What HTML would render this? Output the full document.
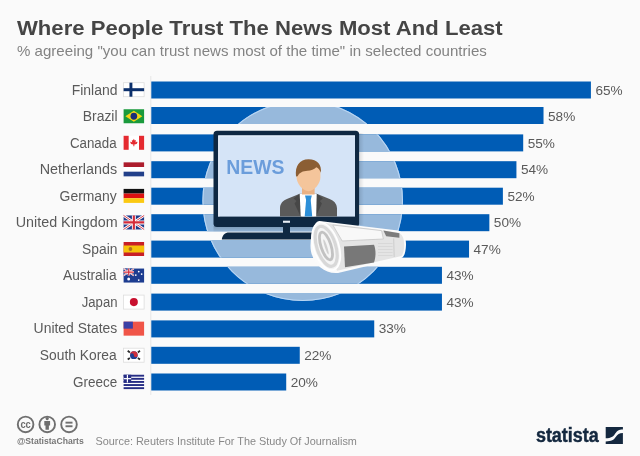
<!DOCTYPE html>
<html><head><meta charset="utf-8"><style>
html,body{margin:0;padding:0;background:#fafafa;}
svg{display:block;will-change:transform;}
text{font-family:"Liberation Sans",sans-serif;}
.lbl{font-size:14px;fill:#5a5a5a;}
.pct{font-size:13.6px;fill:#5a5a5a;}
</style></head><body>
<svg width="640" height="456" viewBox="0 0 640 456">
<rect width="640" height="456" fill="#fafafa"/>
<text x="17" y="35" font-size="21.1" font-weight="bold" fill="#454545" textLength="485.7" lengthAdjust="spacingAndGlyphs">Where People Trust The News Most And Least</text>
<text x="17" y="55.6" font-size="14.5" fill="#838383" textLength="469.8" lengthAdjust="spacingAndGlyphs">% agreeing "you can trust news most of the time" in selected countries</text>
<rect x="150.3" y="76" width="1" height="319" fill="#e6e6e6"/>
<rect x="151.3" y="81.50" width="439.61" height="17.0" fill="#005cb5"/><rect x="151.3" y="107.00" width="392.22" height="17.0" fill="#005cb5"/><rect x="151.3" y="134.40" width="371.90" height="17.0" fill="#005cb5"/><rect x="151.3" y="161.20" width="365.13" height="17.0" fill="#005cb5"/><rect x="151.3" y="187.70" width="351.59" height="17.0" fill="#005cb5"/><rect x="151.3" y="214.20" width="338.05" height="17.0" fill="#005cb5"/><rect x="151.3" y="240.60" width="317.74" height="17.0" fill="#005cb5"/><rect x="151.3" y="266.80" width="290.65" height="17.0" fill="#005cb5"/><rect x="151.3" y="293.60" width="290.65" height="17.0" fill="#005cb5"/><rect x="151.3" y="320.40" width="222.94" height="17.0" fill="#005cb5"/><rect x="151.3" y="346.80" width="148.46" height="17.0" fill="#005cb5"/><rect x="151.3" y="373.50" width="134.92" height="17.0" fill="#005cb5"/>
<defs><linearGradient id="tvsh" x1="0" y1="0" x2="0" y2="1"><stop offset="0" stop-color="#000" stop-opacity="0.18"/><stop offset="1" stop-color="#000" stop-opacity="0"/></linearGradient><linearGradient id="tvsh2" x1="0" y1="0" x2="1" y2="0"><stop offset="0" stop-color="#000" stop-opacity="0.12"/><stop offset="1" stop-color="#000" stop-opacity="0"/></linearGradient><clipPath id="cc"><circle cx="302.7" cy="200.7" r="100.3"/></clipPath><clipPath id="bc"><rect x="151.3" y="81.50" width="439.61" height="17.0" /><rect x="151.3" y="107.00" width="392.22" height="17.0" /><rect x="151.3" y="134.40" width="371.90" height="17.0" /><rect x="151.3" y="161.20" width="365.13" height="17.0" /><rect x="151.3" y="187.70" width="351.59" height="17.0" /><rect x="151.3" y="214.20" width="338.05" height="17.0" /><rect x="151.3" y="240.60" width="317.74" height="17.0" /><rect x="151.3" y="266.80" width="290.65" height="17.0" /><rect x="151.3" y="293.60" width="290.65" height="17.0" /><rect x="151.3" y="320.40" width="222.94" height="17.0" /><rect x="151.3" y="346.80" width="148.46" height="17.0" /><rect x="151.3" y="373.50" width="134.92" height="17.0" /></clipPath></defs>
<g clip-path="url(#cc)" fill="#97b9dc"><rect x="151.3" y="81.50" width="439.61" height="17.0" /><rect x="151.3" y="107.00" width="392.22" height="17.0" /><rect x="151.3" y="134.40" width="371.90" height="17.0" /><rect x="151.3" y="161.20" width="365.13" height="17.0" /><rect x="151.3" y="187.70" width="351.59" height="17.0" /><rect x="151.3" y="214.20" width="338.05" height="17.0" /><rect x="151.3" y="240.60" width="317.74" height="17.0" /><rect x="151.3" y="266.80" width="290.65" height="17.0" /><rect x="151.3" y="293.60" width="290.65" height="17.0" /><rect x="151.3" y="320.40" width="222.94" height="17.0" /><rect x="151.3" y="346.80" width="148.46" height="17.0" /><rect x="151.3" y="373.50" width="134.92" height="17.0" /></g>
<circle cx="302.7" cy="200.7" r="99.8" fill="none" stroke="#b9d6f4" stroke-width="1.1" clip-path="url(#bc)"/>

<rect x="213.5" y="226" width="137" height="6.5" fill="url(#tvsh)"/>
<rect x="359" y="133" width="5" height="92" fill="url(#tvsh2)"/>
<rect x="213.5" y="130.7" width="145.6" height="96.2" rx="3.5" fill="#0f2842"/>
<rect x="218.2" y="135.4" width="136.8" height="81.2" fill="#d5e4f7"/>
<path d="M218.8 216.6 V136 H355" fill="none" stroke="#e9f1fb" stroke-width="1.2"/>
<text x="226.3" y="173.9" font-size="19.8" font-weight="bold" fill="#6b9ddb" textLength="58.2" lengthAdjust="spacingAndGlyphs">NEWS</text>
<rect x="283" y="220.7" width="7" height="2.1" fill="#e8eef5"/>
<rect x="283" y="226" width="7" height="7" fill="#0f2842"/>
<path d="M221.8 239.4 C222.5 235 225 232.5 229 232.5 H344 C348 232.5 350.5 235 351.2 239.4 Z" fill="#0f2842"/>
<g>
<path d="M280 216.6 V208.5 C280 203.5 283 200.5 287.5 198.8 L299.7 193.7 H316.7 L329 198.8 C333.5 200.5 337 203.5 337 208.5 V216.6 Z" fill="#5a5a5a"/>
<path d="M299.7 193.7 L293.5 198.5 L296.5 201 L294.5 203.5 L300.5 216.6 H302 Z" fill="#474747"/>
<path d="M316.7 193.7 L322.9 198.5 L319.9 201 L321.9 203.5 L315.9 216.6 H314.4 Z" fill="#474747"/>
<path d="M299.7 193.7 H316.7 L316.2 216.6 H300.7 Z" fill="#fff"/>
<path d="M305 195.6 H311.8 L310.7 200 H306.1 Z" fill="#2d8fd8"/>
<path d="M306.1 199.8 H310.7 L312.2 216.6 H304.7 Z" fill="#2d8fd8"/>
<rect x="302" y="184" width="12.6" height="10.5" fill="#e9b184"/>
<path d="M296.6 170 C296.6 164 301 161 308.5 161 C316 161 320.4 164 320.4 170 V177.5 C320.4 183 314.5 191.2 308.5 191.2 C302.5 191.2 296.6 183 296.6 177.5 Z" fill="#f4c59b"/>
<path d="M296 176.5 C294.8 166 299.5 159.3 308.5 159.3 C317.5 159.3 321.8 165 320.9 172.8 C320 170.2 318.3 167.8 316.3 167.2 C314 169.6 311 170.6 307.5 170.7 C303 170.9 299.3 172.5 297.6 176.2 Z" fill="#8b5e34"/>
</g>


<g>
<path d="M319.5 221 L398 230.6 C404.2 231.8 406.2 238 406 245 C405.8 252 404.2 257.8 401 258 L338 273 C322 274.5 310 260 310.5 245 C311 231 315 220.6 319.5 221 Z" fill="#fbfbfb"/>
<path d="M320 222.3 L397.5 232.4 C402 233.4 404.2 238 404.2 245 C404.2 251 402.6 256.2 400.5 256.3 L337 270.8 Z" fill="#e4e4e4"/>
<path d="M332.8 225 L381.6 230.6 L383.4 239 L342.2 241 Z" fill="#f8f8f8" stroke="#cbcbcb" stroke-width="0.9"/>
<path d="M383.4 230.6 L399.4 233.2 L399.4 237.8 L386.2 236.2 Z" fill="#7c7c7c"/>
<path d="M344 246.6 L374 244.7 C376 250 376 257 374 262.5 L345 267.2 Z" fill="#787878"/>
<path d="M378 243.5 H392.5 M378 246.5 H392.5 M378 249.5 H392.5 M378 252.5 H392.5 M378 255.5 H392.5" stroke="#d2d2d2" stroke-width="0.7"/>
<path d="M393.7 238.5 L394.2 257" stroke="#cacaca" stroke-width="0.9"/>
<ellipse cx="326.2" cy="246.3" rx="12.6" ry="24.6" transform="rotate(-18 326.2 246.3)" fill="#f5f5f5" stroke="#fff" stroke-width="1.6"/>
<ellipse cx="326.2" cy="246.3" rx="9.4" ry="20.8" transform="rotate(-18 326.2 246.3)" fill="none" stroke="#d8d8d8" stroke-width="3.2"/>
<ellipse cx="326" cy="246" rx="5" ry="14.5" transform="rotate(-18 326 246)" fill="none" stroke="#c2c2c2" stroke-width="2.8"/>
<ellipse cx="326" cy="246.8" rx="1.2" ry="8" transform="rotate(-18 326 246.8)" fill="#d0d0d0"/>
</g>

<text x="71.71" y="94.50" class="lbl" textLength="45.82" lengthAdjust="spacingAndGlyphs">Finland</text><text x="595.41" y="94.50" class="pct">65%</text><text x="82.71" y="121.05" class="lbl" textLength="34.84" lengthAdjust="spacingAndGlyphs">Brazil</text><text x="548.02" y="121.05" class="pct">58%</text><text x="69.88" y="147.60" class="lbl" textLength="46.71" lengthAdjust="spacingAndGlyphs">Canada</text><text x="527.70" y="147.60" class="pct">55%</text><text x="39.66" y="174.15" class="lbl" textLength="77.45" lengthAdjust="spacingAndGlyphs">Netherlands</text><text x="520.93" y="174.15" class="pct">54%</text><text x="59.56" y="200.70" class="lbl" textLength="57.29" lengthAdjust="spacingAndGlyphs">Germany</text><text x="507.39" y="200.70" class="pct">52%</text><text x="15.74" y="227.25" class="lbl" textLength="101.86" lengthAdjust="spacingAndGlyphs">United Kingdom</text><text x="493.85" y="227.25" class="pct">50%</text><text x="82.06" y="253.80" class="lbl" textLength="35.43" lengthAdjust="spacingAndGlyphs">Spain</text><text x="473.54" y="253.80" class="pct">47%</text><text x="62.94" y="280.35" class="lbl" textLength="53.60" lengthAdjust="spacingAndGlyphs">Australia</text><text x="446.45" y="280.35" class="pct">43%</text><text x="81.79" y="306.90" class="lbl" textLength="35.72" lengthAdjust="spacingAndGlyphs">Japan</text><text x="446.45" y="306.90" class="pct">43%</text><text x="33.58" y="333.45" class="lbl" textLength="83.68" lengthAdjust="spacingAndGlyphs">United States</text><text x="378.74" y="333.45" class="pct">33%</text><text x="39.87" y="360.00" class="lbl" textLength="76.76" lengthAdjust="spacingAndGlyphs">South Korea</text><text x="304.26" y="360.00" class="pct">22%</text><text x="72.93" y="386.55" class="lbl" textLength="44.21" lengthAdjust="spacingAndGlyphs">Greece</text><text x="290.72" y="386.55" class="pct">20%</text>
<g transform="translate(123.6,82.7) scale(0.976 1)"><rect width="21" height="14" fill="#fff" stroke="#ddd" stroke-width="0.8"/><rect x="6" y="0" width="3" height="14" fill="#0b2f6b"/><rect x="0" y="5.5" width="21" height="3" fill="#0b2f6b"/></g><g transform="translate(123.6,109.25) scale(0.976 1)"><rect width="21" height="14" fill="#1a9a3c"/><path d="M10.5 1.6 L19.2 7 L10.5 12.4 L1.8 7 Z" fill="#f5d415"/><circle cx="10.5" cy="7" r="3.4" fill="#1b2d78"/></g><g transform="translate(123.6,135.8) scale(0.976 1)"><rect width="21" height="14" fill="#fff"/><rect width="5.2" height="14" fill="#e52a30"/><rect x="15.8" width="5.2" height="14" fill="#e52a30"/><path d="M10.5 3 L11.4 4.8 L12.6 4.3 L12.2 6.6 L13.8 5.6 L14.2 6.6 L13.3 8.3 L11 8.7 L11 10.5 L10 10.5 L10 8.7 L7.7 8.3 L6.8 6.6 L7.2 5.6 L8.8 6.6 L8.4 4.3 L9.6 4.8 Z" fill="#e52a30"/></g><g transform="translate(123.6,162.35) scale(0.976 1)"><rect width="21" height="4.67" fill="#ad1d2d"/><rect y="4.67" width="21" height="4.67" fill="#fff"/><rect y="9.33" width="21" height="4.67" fill="#22408a"/></g><g transform="translate(123.6,188.9) scale(0.976 1)"><rect width="21" height="4.67" fill="#111"/><rect y="4.67" width="21" height="4.67" fill="#dd1111"/><rect y="9.33" width="21" height="4.67" fill="#fbc912"/></g><g transform="translate(123.6,215.45) scale(0.976 1)"><rect width="21" height="14" fill="#1f3a8a"/><path d="M0 0 L21 14 M21 0 L0 14" stroke="#fff" stroke-width="2.6"/><path d="M0 0 L21 14 M21 0 L0 14" stroke="#d42b3a" stroke-width="0.9"/><path d="M10.5 0 V14 M0 7 H21" stroke="#fff" stroke-width="4"/><path d="M10.5 0 V14 M0 7 H21" stroke="#d42b3a" stroke-width="2.2"/></g><g transform="translate(123.6,242.0) scale(0.976 1)"><rect width="21" height="14" fill="#c81f26"/><rect y="3.5" width="21" height="7" fill="#f6c20a"/><circle cx="7" cy="7" r="1.9" fill="#b0701d"/></g><g transform="translate(123.6,268.55) scale(0.976 1)"><rect width="21" height="14" fill="#1c3c90"/><g><rect width="10.5" height="7" fill="#1c3c90"/><path d="M0 0 L10.5 7 M10.5 0 L0 7" stroke="#fff" stroke-width="1.5"/><path d="M0 0 L10.5 7 M10.5 0 L0 7" stroke="#d42b3a" stroke-width="0.5"/><path d="M5.25 0 V7 M0 3.5 H10.5" stroke="#fff" stroke-width="2.2"/><path d="M5.25 0 V7 M0 3.5 H10.5" stroke="#d42b3a" stroke-width="1.2"/></g><circle cx="5.2" cy="10.5" r="1.5" fill="#fff"/><circle cx="15.5" cy="3" r="0.9" fill="#fff"/><circle cx="18.5" cy="5.5" r="0.9" fill="#fff"/><circle cx="12.5" cy="6.5" r="0.9" fill="#fff"/><circle cx="15.5" cy="11.5" r="0.9" fill="#fff"/></g><g transform="translate(123.6,295.1) scale(0.976 1)"><rect width="21" height="14" fill="#fff" stroke="#ddd" stroke-width="0.8"/><circle cx="10.5" cy="7" r="4.1" fill="#c8102e"/></g><g transform="translate(123.6,321.65) scale(0.976 1)"><rect width="21" height="14" fill="#f05548"/><rect width="9.5" height="7" fill="#3b3fa6"/></g><g transform="translate(123.6,348.2) scale(0.976 1)"><rect width="21" height="14" fill="#fff" stroke="#ddd" stroke-width="0.8"/><circle cx="10.5" cy="7" r="3.9" fill="#1e3f92"/><path d="M6.6 7 A3.9 3.9 0 0 1 14.4 7 A1.95 1.95 0 0 1 10.5 7 A1.95 1.95 0 0 0 6.6 7 Z" fill="#cf2f3c"/><path d="M4.2 2.6 L6.4 4.2 M14.6 4.2 L16.8 2.6 M4.2 11.4 L6.4 9.8 M14.6 9.8 L16.8 11.4" stroke="#2a2a2a" stroke-width="1.8"/></g><g transform="translate(123.6,374.75) scale(0.976 1)"><rect width="21" height="14" fill="#fff"/><rect y="0.000" width="21" height="1.9" fill="#262d85"/><rect y="3.111" width="21" height="1.9" fill="#262d85"/><rect y="6.222" width="21" height="1.9" fill="#262d85"/><rect y="9.333" width="21" height="1.9" fill="#262d85"/><rect y="12.444" width="21" height="1.9" fill="#262d85"/><rect width="7.8" height="7.78" fill="#262d85"/><rect x="3.3" width="1.2" height="7.78" fill="#fff"/><rect y="3.3" width="7.8" height="1.2" fill="#fff"/></g>

<g fill="none" stroke="#6f6f6f" stroke-width="1.9">
<circle cx="25.6" cy="424.4" r="7.8"/>
<circle cx="47.2" cy="424.4" r="7.8"/>
<circle cx="69" cy="424.4" r="7.8"/>
</g>
<text x="25.6" y="428.1" font-size="10.6" font-weight="bold" fill="#6f6f6f" text-anchor="middle" textLength="10.4" lengthAdjust="spacingAndGlyphs">cc</text>
<g fill="#6f6f6f">
<circle cx="47.2" cy="418.6" r="1.6"/>
<path d="M44.3 420.9 H50.1 V425.6 H48.9 V429.8 H45.5 V425.6 H44.3 Z"/>
<rect x="65.5" y="421.7" width="7" height="1.9"/>
<rect x="65.5" y="425.3" width="7" height="1.9"/>
</g>
<text x="16.9" y="444" font-size="9" font-weight="bold" fill="#777" textLength="66.8" lengthAdjust="spacingAndGlyphs">@StatistaCharts</text>
<text x="95.5" y="444.9" font-size="11.2" fill="#888" textLength="261.4" lengthAdjust="spacingAndGlyphs">Source: Reuters Institute For The Study Of Journalism</text>
<text x="535.9" y="441.9" font-size="19.5" font-weight="bold" fill="#14283f" stroke="#14283f" stroke-width="0.45" textLength="62.9" lengthAdjust="spacingAndGlyphs">statista</text>
<g transform="translate(605.7 427.1)">
<path d="M0 0 H17.2 V2.3 C13 2.3 11.5 3.5 9.5 6.5 C7.5 9.8 5.5 11.2 0 11.2 Z" fill="#14283f"/>
<path d="M0 16.9 H17.2 V5.9 C13.5 5.9 12 7.2 10 10 C8 13 6 14.3 0 14.3 Z" fill="#14283f"/>
</g>

</svg>
</body></html>
